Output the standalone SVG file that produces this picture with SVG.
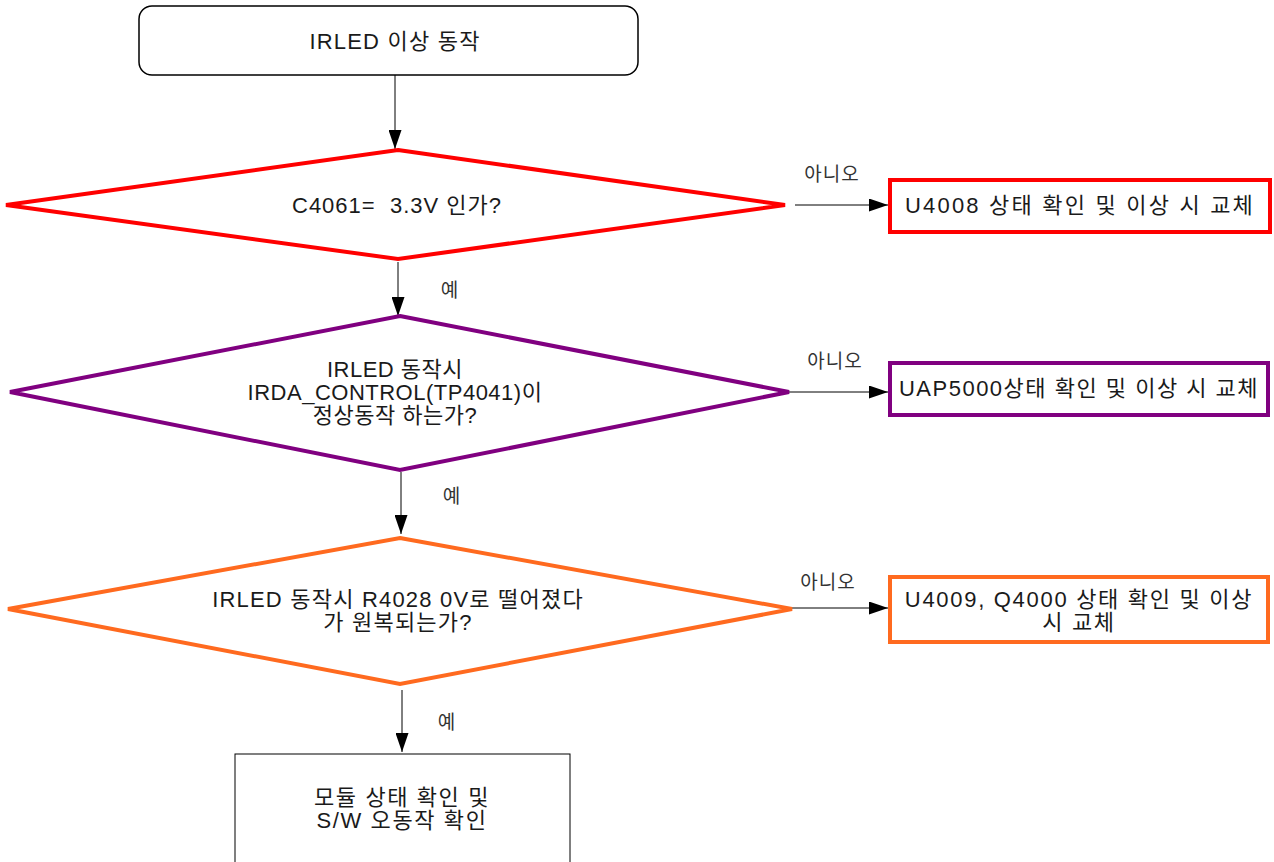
<svg xmlns="http://www.w3.org/2000/svg" width="1274" height="862" viewBox="0 0 1274 862">
<style>
.bx{font-family:"Liberation Sans","Noto Sans CJK KR",sans-serif;font-size:22px;fill:#1a1a1a;text-anchor:middle}
.dt{font-family:"Liberation Sans","Noto Sans CJK KR",sans-serif;font-size:22px;fill:#1a1a1a;text-anchor:middle}
.lb{font-family:"Noto Sans CJK KR",sans-serif;font-size:19px;fill:#333;text-anchor:middle;letter-spacing:1px}
.cn{stroke:#000;stroke-width:1;fill:none}
</style>
<defs>
<marker id="ah" markerWidth="19" markerHeight="13" refX="19" refY="6.5" orient="auto" markerUnits="userSpaceOnUse">
<path d="M0,0 L19,6.5 L0,13 Z" fill="#000"/>
</marker>
</defs>
<rect width="1274" height="862" fill="#fff"/>
<g id="connectors">
<line class="cn" x1="395" y1="75" x2="395" y2="149" marker-end="url(#ah)"/>
<line class="cn" x1="795" y1="205" x2="888" y2="205" marker-end="url(#ah)"/>
<line class="cn" x1="398" y1="262" x2="398" y2="316" marker-end="url(#ah)"/>
<line class="cn" x1="789" y1="392" x2="888" y2="392" marker-end="url(#ah)"/>
<line class="cn" x1="401" y1="472" x2="401" y2="534" marker-end="url(#ah)"/>
<line class="cn" x1="792" y1="608" x2="888" y2="608" marker-end="url(#ah)"/>
<line class="cn" x1="402" y1="690" x2="402" y2="752" marker-end="url(#ah)"/>
<text class="lb" x="832" y="181">아니오</text>
<text class="lb" x="450" y="297">예</text>
<text class="lb" x="835" y="368">아니오</text>
<text class="lb" x="452" y="503">예</text>
<text class="lb" x="828" y="589">아니오</text>
<text class="lb" x="447" y="729">예</text>
</g>
<g id="start">
<rect x="139" y="6" width="499" height="69" rx="13" fill="#fff" stroke="#000" stroke-width="1.5"/>
<text class="bx" x="395" y="49" letter-spacing="1.2">IRLED 이상 동작</text>
</g>
<g id="d1">
<polygon points="398,150 785,205 398,259 6,205" fill="#fff" stroke="#ff0000" stroke-width="4"/>
<text class="dt" x="397" y="213" letter-spacing="1" xml:space="preserve" style="white-space:pre">C4061=  3.3V 인가?</text>
</g>
<g id="b1">
<rect x="890" y="180" width="380" height="52" fill="#fff" stroke="#ff0000" stroke-width="4"/>
<text class="bx" x="1080" y="213" letter-spacing="2.2">U4008 상태 확인 및 이상 시 교체</text>
</g>
<g id="d2">
<polygon points="400,316 789,392 400,470 10,392" fill="#fff" stroke="#800080" stroke-width="4"/>
<text class="dt" x="395" y="377" letter-spacing="0.5">IRLED 동작시</text>
<text class="dt" x="395" y="400" letter-spacing="0.5">IRDA_CONTROL(TP4041)이</text>
<text class="dt" x="395" y="423" letter-spacing="0.5">정상동작 하는가?</text>
</g>
<g id="b2">
<rect x="890" y="363" width="378" height="52" fill="#fff" stroke="#800080" stroke-width="4"/>
<text class="bx" x="1079" y="396" letter-spacing="1.5">UAP5000상태 확인 및 이상 시 교체</text>
</g>
<g id="d3">
<polygon points="400,538 792,609 400,684 8,609" fill="#fff" stroke="#ff6a1f" stroke-width="4"/>
<text class="dt" x="398" y="607" letter-spacing="1.2">IRLED 동작시 R4028 0V로 떨어졌다</text>
<text class="dt" x="398" y="630" letter-spacing="1.2">가 원복되는가?</text>
</g>
<g id="b3">
<rect x="890" y="577" width="378" height="65" fill="#fff" stroke="#ff6a1f" stroke-width="4"/>
<text class="bx" x="1079" y="607" letter-spacing="1.7">U4009, Q4000 상태 확인 및 이상</text>
<text class="bx" x="1079" y="630" letter-spacing="1.7">시 교체</text>
</g>
<g id="end">
<rect x="235" y="754" width="335" height="130" fill="#fff" stroke="#000" stroke-width="1"/>
<text class="bx" x="402" y="805" letter-spacing="1.6">모듈 상태 확인 및</text>
<text class="bx" x="402" y="828" letter-spacing="1.6">S/W 오동작 확인</text>
</g>
</svg>
